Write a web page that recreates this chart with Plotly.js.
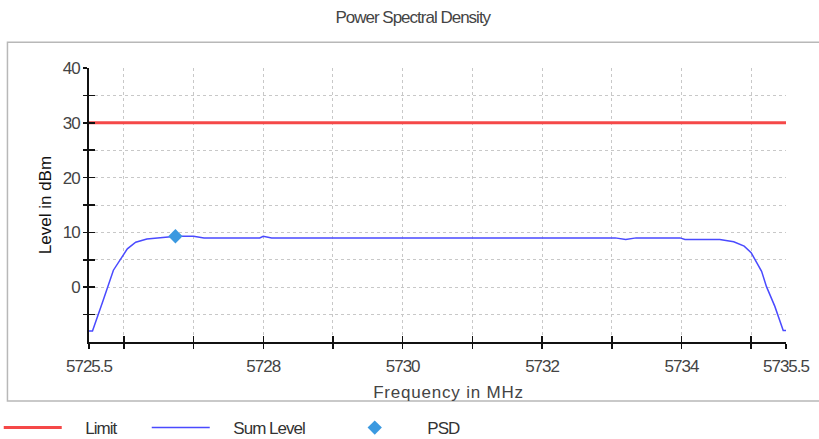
<!DOCTYPE html>
<html>
<head>
<meta charset="utf-8">
<script src="https://cdn.plot.ly/plotly-3.0.1.min.js"></script>
<style>
html,body{margin:0;padding:0;background:#fff;}
#chart{width:819px;height:439px;}
#chart svg text{letter-spacing:-1px;}
#chart svg text.ytitle{letter-spacing:0px;}
#chart svg text.xtitle{letter-spacing:0.8px; transform:translate(11px,0px);}
</style>
</head>
<body>
<div id="chart"></div>
<script>
// ---- data ----
var limitFreq = [5725.5, 5735.5];
var limitLevel = [30, 30];

var sumFreq = [5725.50, 5725.55, 5725.70, 5725.85, 5726.05, 5726.17, 5726.33, 5726.48, 5726.57,
  5726.75, 5727.00, 5727.15, 5727.95, 5728.00, 5728.12, 5733.05, 5733.20, 5733.35, 5733.98,
  5734.05, 5734.55, 5734.75, 5734.90, 5735.00, 5735.15, 5735.22, 5735.34, 5735.46, 5735.50];
var sumLevel = [-8.0, -8.0, -2.5, 3.1, 7.0, 8.2, 8.8, 9.0, 9.1,
  9.3, 9.3, 9.0, 9.0, 9.3, 9.0, 9.0, 8.7, 9.0, 9.0,
  8.7, 8.7, 8.3, 7.5, 6.3, 2.9, 0.1, -3.5, -7.9, -7.9];

var psdFreq = [5726.74];
var psdLevel = [9.3];

var xTickVals = [5725.5, 5726, 5727, 5728, 5729, 5730, 5731, 5732, 5733, 5734, 5735, 5735.5];
var xTickText = ['5725.5', '', '', '5728', '', '5730', '', '5732', '', '5734', '', '5735.5'];
var yTickVals = [-5, 0, 5, 10, 15, 20, 25, 30, 35, 40];
var yTickText = ['', '0', '', '10', '', '20', '', '30', '', '40'];

var FONT = '"Liberation Sans", Arial, sans-serif';
var NB = '\u00a0';
var PAD = NB + NB + NB + NB + NB;

var traces = [
  {x: limitFreq, y: limitLevel, type: 'scatter', mode: 'lines', name: PAD + 'Limit', legendwidth: 75,
   line: {color: '#f54848', width: 3}},
  {x: sumFreq, y: sumLevel, type: 'scatter', mode: 'lines', name: PAD + 'Sum Level', legendwidth: 121,
   line: {color: '#4a4aff', width: 1.5}},
  {x: psdFreq, y: psdLevel, type: 'scatter', mode: 'markers', name: PAD + 'PSD',
   marker: {symbol: 'diamond', size: 11, color: '#3b99e0'}},
  {x: [], y: [], xaxis: 'x2', yaxis: 'y2', type: 'scatter', mode: 'lines', showlegend: false, hoverinfo: 'skip'}
];

var tickFont = {family: FONT, size: 17, color: '#444'};

var layout = {
  width: 819, height: 439,
  margin: {l: 89, r: 33, t: 68, b: 97, autoexpand: false},
  paper_bgcolor: '#fff', plot_bgcolor: '#fff',
  showlegend: true,
  title: {text: 'Power Spectral Density', font: {family: FONT, size: 17, color: '#444'},
          xref: 'container', x: 0.504, xanchor: 'center', yref: 'container', y: 0.961, yanchor: 'middle'},
  xaxis: {
    range: [5725.5, 5735.5], tickmode: 'array', tickvals: xTickVals, ticktext: xTickText, automargin: false,
    showgrid: true, gridcolor: '#c8c8c8', griddash: 'dot', gridwidth: 1,
    zeroline: false, showline: true, linecolor: '#111', linewidth: 2,
    ticks: 'outside', ticklen: 5, tickwidth: 1.5, tickcolor: '#111', ticklabelstandoff: 3,
    tickfont: tickFont,
    title: {text: 'Frequency in MHz', font: {family: FONT, size: 17, color: '#444'}, standoff: 11}
  },
  yaxis: {
    range: [-10, 40], tickmode: 'array', tickvals: yTickVals, ticktext: yTickText, automargin: false,
    showgrid: true, gridcolor: '#c8c8c8', griddash: 'dot', gridwidth: 1,
    zeroline: false, showline: true, linecolor: '#111', linewidth: 2,
    ticks: 'outside', ticklen: 4, tickwidth: 1.5, tickcolor: '#111',
    tickfont: tickFont,
    title: {text: 'Level in dBm' + NB + NB, font: {family: FONT, size: 17, color: '#111'}, standoff: 5}
  },
  xaxis2: {
    range: [5725.5, 5735.5], overlaying: 'x', anchor: 'y2', side: 'bottom', automargin: false,
    tickmode: 'array', tickvals: xTickVals, showticklabels: false, showgrid: false, zeroline: false,
    ticks: 'inside', ticklen: 6, tickwidth: 1.5, tickcolor: '#111', showline: false
  },
  yaxis2: {
    range: [-10, 40], overlaying: 'y', anchor: 'x2', side: 'left', automargin: false,
    tickmode: 'array', tickvals: yTickVals, showticklabels: false, showgrid: false, zeroline: false,
    ticks: 'inside', ticklen: 6, tickwidth: 1.5, tickcolor: '#111', showline: false
  },
  legend: {
    orientation: 'h', x: -0.1295, xanchor: 'left', y: -0.314, yanchor: 'middle',
    font: {family: FONT, size: 17, color: '#333'}, itemwidth: 58,
    bgcolor: 'rgba(0,0,0,0)'
  },
  shapes: [
    {type: 'rect', xref: 'paper', yref: 'paper', x0: -0.117, x1: 1.2, y0: -0.215, y1: 1.094,
     line: {color: '#b8b8b8', width: 1.5}, fillcolor: 'rgba(0,0,0,0)', layer: 'below'}
  ]
};

Plotly.newPlot('chart', traces, layout, {displayModeBar: false, staticPlot: true});
</script>
</body>
</html>
